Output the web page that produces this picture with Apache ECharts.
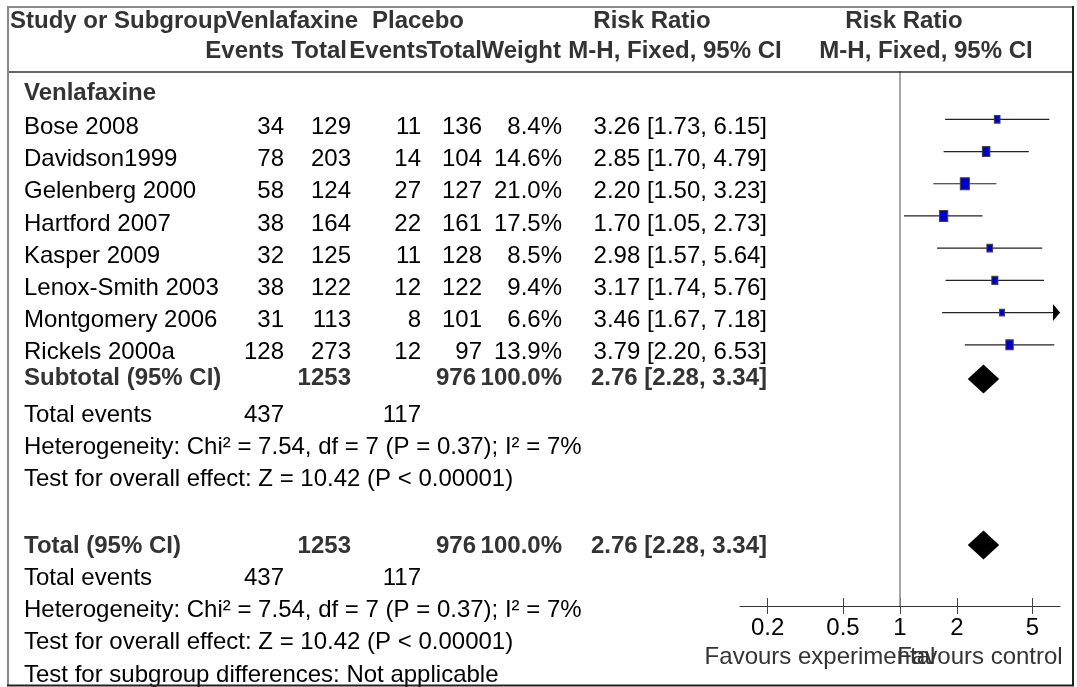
<!DOCTYPE html>
<html><head><meta charset="utf-8">
<script src="https://cdn.jsdelivr.net/npm/echarts@6/dist/echarts.min.js"></script>
<style>html,body{margin:0;padding:0;background:#fff}#c{width:1077px;height:687px}</style>
</head><body><div id="c"></div>
<script>
// ---------- data ----------
const studies = ['Bose 2008', 'Davidson1999', 'Gelenberg 2000', 'Hartford 2007', 'Kasper 2009', 'Lenox-Smith 2003', 'Montgomery 2006', 'Rickels 2000a'];
const venEvents = [34, 78, 58, 38, 32, 38, 31, 128];
const venTotal = [129, 203, 124, 164, 125, 122, 113, 273];
const plaEvents = [11, 14, 27, 22, 11, 12, 8, 12];
const plaTotal = [136, 104, 127, 161, 128, 122, 101, 97];
const weights = [8.4, 14.6, 21.0, 17.5, 8.5, 9.4, 6.6, 13.9];
const rr = [3.26, 2.85, 2.20, 1.70, 2.98, 3.17, 3.46, 3.79];
const ciLow = [1.73, 1.70, 1.50, 1.05, 1.57, 1.74, 1.67, 2.20];
const ciHigh = [6.15, 4.79, 3.23, 2.73, 5.64, 5.76, 7.18, 6.53];
const pooledRR = [2.76, 2.28, 3.34];       // estimate, low, high
const pooledTotals = [1253, 976];          // venlafaxine, placebo
const pooledWeight = '100.0%';
const totalEvents = [437, 117];
const subgroupName = 'Venlafaxine';
const hetText = 'Heterogeneity: Chi² = 7.54, df = 7 (P = 0.37); I² = 7%';
const effectText = 'Test for overall effect: Z = 10.42 (P < 0.00001)';
const subgroupDiffText = 'Test for subgroup differences: Not applicable';
const axisTicks = [0.2, 0.5, 1, 2, 5];
const axisRange = [1 / 7, 7];

// ---------- layout ----------
const FONT = '"Liberation Sans", Arial, Helvetica, sans-serif';
const FS = 24;
const rowKeys = ['grp'].concat(studies.map((s, i) => 's' + i),
  ['sub', 'te1', 'het1', 'eff1', 'gap', 'tot', 'te2', 'het2', 'eff2', 'sgd']);
const subRow = rowKeys.indexOf('sub'), totRow = rowKeys.indexOf('tot');
const PLOT_L = 740, PLOT_W = 320;
const TEXT_DY = 8;
const ROW_DY = {grp: 6, sub: 1, te1: 6, het1: 6, eff1: 6};

const chart = echarts.init(document.getElementById('c'), null, {renderer: 'canvas'});

const fmt = v => v.toFixed(2);

chart.setOption({
  animation: false,
  backgroundColor: '#fff',
  grid: [
    {left: PLOT_L, width: PLOT_W, top: 71, height: 612},
    {left: PLOT_L, width: PLOT_W, top: 71, height: 535}
  ],
  xAxis: [
    {type: 'log', gridIndex: 0, min: axisRange[0], max: axisRange[1], show: false},
    {type: 'log', gridIndex: 1, min: axisRange[0], max: axisRange[1], position: 'bottom',
      axisLine: {show: true, lineStyle: {color: '#333', width: 1}},
      axisTick: {show: true, inside: false, length: 8, customValues: axisTicks, lineStyle: {color: '#444', width: 1}},
      axisLabel: {show: true, customValues: axisTicks, margin: 10, fontSize: FS, fontFamily: FONT, color: '#000',
        formatter: v => String(+v.toPrecision(3))},
      splitLine: {show: false}},
    {type: 'log', gridIndex: 1, min: axisRange[0], max: axisRange[1], position: 'bottom',
      axisLine: {show: false},
      axisTick: {show: true, inside: true, length: 8, customValues: axisTicks, lineStyle: {color: '#444', width: 1}},
      axisLabel: {show: false}, splitLine: {show: false}}
  ],
  yAxis: [
    {type: 'category', gridIndex: 0, data: rowKeys, inverse: true, show: false},
    {type: 'value', gridIndex: 1, min: 0, max: 1, show: false}
  ],
  series: [
    {
      type: 'line', xAxisIndex: 1, yAxisIndex: 1, data: [[1, 0.5]], symbol: 'none', lineStyle: {opacity: 0},
      markLine: {silent: true, symbol: 'none', label: {show: false},
        lineStyle: {color: '#888', width: 1.5, type: 'solid'}, data: [{xAxis: 1}]}
    },
    {
      type: 'custom', xAxisIndex: 0, yAxisIndex: 0, z: 3,
      data: studies.map((s, i) => [ciLow[i], ciHigh[i], i + 1]),
      encode: {x: [0, 1], y: 2},
      clip: false,
      renderItem(params, api) {
        const lo = api.value(0), hi = api.value(1), row = api.value(2);
        const p0 = api.coord([Math.max(lo, axisRange[0]), row]);
        const p1 = api.coord([Math.min(hi, axisRange[1]), row]);
        const kids = [{type: 'line', shape: {x1: p0[0], y1: p0[1], x2: p1[0], y2: p1[1]},
          style: {stroke: '#222', lineWidth: 1.2}}];
        if (hi > axisRange[1]) {
          kids.push({type: 'polygon', shape: {points: [[p1[0], p1[1]], [p1[0] - 7, p1[1] - 8.5], [p1[0] - 7, p1[1] + 8.5]]},
            style: {fill: '#000'}});
        }
        return {type: 'group', children: kids};
      }
    },
    {
      type: 'scatter', xAxisIndex: 0, yAxisIndex: 0, z: 4,
      data: studies.map((s, i) => [rr[i], i + 1, weights[i]]),
      symbol: 'rect',
      symbolSize: v => [2 * Math.sqrt(v[2]), 2.6 * Math.sqrt(v[2])],
      itemStyle: {color: '#0000c8', borderColor: '#444', borderWidth: 1, opacity: 1}
    },
    {
      type: 'custom', xAxisIndex: 0, yAxisIndex: 0, z: 4,
      data: [[pooledRR[0], pooledRR[1], pooledRR[2], subRow], [pooledRR[0], pooledRR[1], pooledRR[2], totRow]],
      encode: {x: [0, 1, 2], y: 3},
      renderItem(params, api) {
        const row = api.value(3);
        const pm = api.coord([api.value(0), row]);
        const pl = api.coord([api.value(1), row]);
        const ph = api.coord([api.value(2), row]);
        const y = pm[1] + (row === subRow ? 2 : 7), h = 14.5;
        return {type: 'polygon', shape: {points: [[pl[0], y], [pm[0], y - h], [ph[0], y], [pm[0], y + h]]},
          style: {fill: '#000'}};
      }
    }
  ]
});

// ---------- table text ----------
const rowY = key => chart.convertToPixel({yAxisIndex: 0}, key) + (key in ROW_DY ? ROW_DY[key] : TEXT_DY);
const g = [];
function txt(text, x, y, align, bold, color) {
  g.push({type: 'text', x: x, y: y, silent: true, z: 10,
    style: {text: String(text), fontSize: FS, fontFamily: FONT, fontWeight: bold ? 'bold' : 'normal',
      fill: color || (bold ? '#333' : '#000'), align: align, verticalAlign: 'middle'}});
}
const COL = {name: 24, ve: 284, vt: 351, pe: 421, pt: 482, w: 562, rr: 767};

// header
txt('Study or Subgroup', 10, 21, 'left', true);
txt('Venlafaxine', 226, 21, 'left', true);
txt('Placebo', 418, 21, 'center', true);
txt('Risk Ratio', 652, 21, 'center', true);
txt('Risk Ratio', 904, 21, 'center', true);
txt('Events', 284, 51, 'right', true);
txt('Total', 347, 51, 'right', true);
txt('Events', 428, 51, 'right', true);
txt('Total', 482, 51, 'right', true);
txt('Weight', 561, 51, 'right', true);
txt('M-H, Fixed, 95% CI', 675, 51, 'center', true);
txt('M-H, Fixed, 95% CI', 926, 51, 'center', true);

// subgroup
txt(subgroupName, COL.name, rowY('grp'), 'left', true);
studies.forEach((s, i) => {
  const y = rowY('s' + i);
  txt(s, COL.name, y, 'left');
  txt(venEvents[i], COL.ve, y, 'right');
  txt(venTotal[i], COL.vt, y, 'right');
  txt(plaEvents[i], COL.pe, y, 'right');
  txt(plaTotal[i], COL.pt, y, 'right');
  txt(weights[i].toFixed(1) + '%', COL.w, y, 'right');
  txt(fmt(rr[i]) + ' [' + fmt(ciLow[i]) + ', ' + fmt(ciHigh[i]) + ']', COL.rr, y, 'right');
});
const pooledStr = fmt(pooledRR[0]) + ' [' + fmt(pooledRR[1]) + ', ' + fmt(pooledRR[2]) + ']';
[['sub', 'Subtotal (95% CI)', 'te1', 'het1', 'eff1'], ['tot', 'Total (95% CI)', 'te2', 'het2', 'eff2']].forEach(b => {
  const y = rowY(b[0]);
  txt(b[1], COL.name, y, 'left', true);
  txt(pooledTotals[0], COL.vt, y, 'right', true);
  txt(pooledTotals[1], 476, y, 'right', true);
  txt(pooledWeight, COL.w, y, 'right', true);
  txt(pooledStr, COL.rr, y, 'right', true);
  const ye = rowY(b[2]);
  txt('Total events', COL.name, ye, 'left');
  txt(totalEvents[0], COL.ve, ye, 'right');
  txt(totalEvents[1], COL.pe, ye, 'right');
  txt(hetText, COL.name, rowY(b[3]), 'left');
  txt(effectText, COL.name, rowY(b[4]), 'left');
});
txt(subgroupDiffText, COL.name, rowY('sgd'), 'left');

// favours labels
const xl = chart.convertToPixel({xAxisIndex: 1}, Math.sqrt(axisRange[0]));
const xr = chart.convertToPixel({xAxisIndex: 1}, Math.sqrt(axisRange[1]));
txt('Favours experimental', xl, 657, 'center', false, '#333');
txt('Favours control', xr, 657, 'center', false, '#333');

// frame
function ln(x1, y1, x2, y2, c, w) {
  g.push({type: 'line', silent: true, z: 20, shape: {x1, y1, x2, y2}, style: {stroke: c, lineWidth: w}});
}
ln(8, 72, 1073, 72, '#333', 1.5);
ln(7, 7, 1074, 7, '#888', 2);
ln(8, 6, 8, 686, '#888', 2);
ln(1073, 6, 1073, 686, '#222', 2);
ln(7, 685.5, 1074, 685.5, '#222', 2);

chart.setOption({graphic: g});
</script>
</body></html>
